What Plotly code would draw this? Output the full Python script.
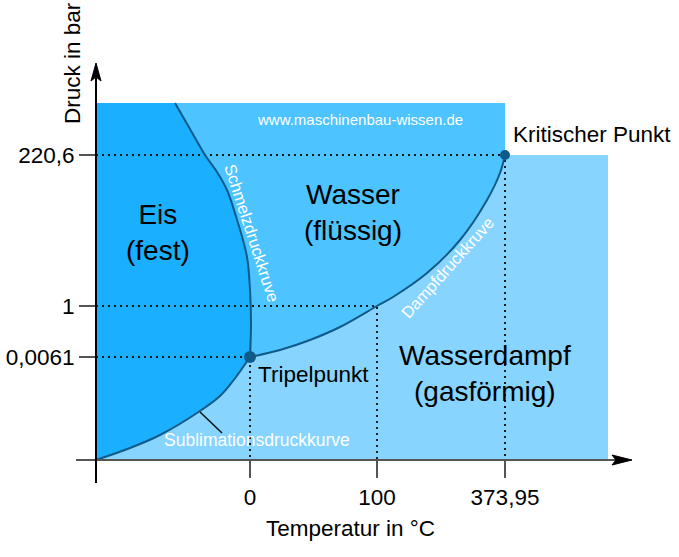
import plotly.graph_objects as go

# Schematic diagram coordinates (non-linear schematic scale)
x_tick_pos = [0, 127, 255]
x_tick_text = ["0", "100", "373,95"]
y_tick_pos = [103, 154, 305]
y_tick_text = ["0,0061", "1", "220,6"]

# phase-boundary curves (schematic positions)
melt_x = [-75, -60, -45, -33, -23, -12, -3, 0, 1, 0]
melt_y = [357, 331, 305, 288, 270, 237, 203, 170, 137, 103]
subl_x = [-154, -120, -90, -50, -30, -17, 0]
subl_y = [0, 12, 25, 49, 64, 79, 103]
vap_x = [0, 30, 60, 90, 127, 143, 177, 210, 237, 250, 255]
vap_y = [103, 110, 120, 133, 154, 163, 187, 220, 260, 287, 305]

triple = (0, 103)
critical = (255, 305)

# diagram frame
left_x, top_y, right_x = -154, 357, 358

C_ICE = "#1AAFFF"
C_WATER = "#4DC3FF"
C_VAP = "#87D4FF"
C_LINE = "#0F5A87"
FONT = "Liberation Sans, Arial, sans-serif"

fig = go.Figure()

# regions
vx = subl_x + vap_x[1:] + [right_x, right_x]
vy = subl_y + vap_y[1:] + [critical[1], 0]
fig.add_trace(go.Scatter(x=vx, y=vy, fill="toself", fillcolor=C_VAP, line=dict(width=0),
                         mode="lines", hoverinfo="skip"))
wx = melt_x + vap_x[1:] + [critical[0]]
wy = melt_y + vap_y[1:] + [top_y]
fig.add_trace(go.Scatter(x=wx, y=wy, fill="toself", fillcolor=C_WATER, line=dict(width=0),
                         mode="lines", hoverinfo="skip"))
ix = [left_x] + melt_x + subl_x[::-1][1:]
iy = [top_y] + melt_y + subl_y[::-1][1:]
fig.add_trace(go.Scatter(x=ix, y=iy, fill="toself", fillcolor=C_ICE, line=dict(width=0),
                         mode="lines", hoverinfo="skip"))

# dotted guide lines from each tick pair
for xp, yp in zip(x_tick_pos, y_tick_pos):
    fig.add_trace(go.Scatter(x=[left_x, xp, xp], y=[yp, yp, 0], mode="lines",
                             line=dict(color="#1a1a1a", width=2, dash="2px,4px"), hoverinfo="skip"))

# curves
for cx, cy in [(melt_x, melt_y), (subl_x, subl_y), (vap_x, vap_y)]:
    fig.add_trace(go.Scatter(x=cx, y=cy, mode="lines", line=dict(color=C_LINE, width=2, shape="spline"),
                             hoverinfo="skip"))

# points
fig.add_trace(go.Scatter(x=[triple[0]], y=[triple[1]], mode="markers",
                         marker=dict(color=C_LINE, size=12), hoverinfo="skip"))
fig.add_trace(go.Scatter(x=[critical[0]], y=[critical[1]], mode="markers",
                         marker=dict(color=C_LINE, size=10), hoverinfo="skip"))

shapes = [
    # axis lines
    dict(type="line", x0=-174, x1=366, y0=0, y1=0, line=dict(color="#555555", width=2)),
    dict(type="line", x0=left_x, x1=left_x, y0=-23, y1=382, line=dict(color="#000000", width=2)),
    # arrow heads
    dict(type="path", path="M -154 397 L -159 379 L -154 383 L -149 379 Z",
         fillcolor="#000000", line=dict(color="#000000", width=1)),
    dict(type="path", path="M 382 0 L 362 5 L 366 0 L 362 -5 Z",
         fillcolor="#000000", line=dict(color="#000000", width=1)),
    # leader line for Sublimationsdruckkurve
    dict(type="line", x0=-50, y0=48, x1=-28, y1=27, line=dict(color="#111111", width=1.5)),
]

annotations = [
    dict(x=-92, y=228, text="Eis<br>(fest)", font=dict(size=28)),
    dict(x=103, y=248, text="Wasser<br>(flüssig)", font=dict(size=28)),
    dict(x=235, y=87, text="Wasserdampf<br>(gasförmig)", font=dict(size=28)),
    dict(x=6, y=86, text="Tripelpunkt", xanchor="left", font=dict(size=22.5)),
    dict(x=261, y=326, text="Kritischer Punkt", xanchor="left", font=dict(size=22.5)),
    dict(x=110, y=341, text="www.maschinenbau-wissen.de", font=dict(size=15, color="white")),
    dict(x=2, y=227, text="Schmelzdruckkruve", textangle=72, font=dict(size=16.5, color="white")),
    dict(x=197, y=192, text="Dampfdruckkruve", textangle=-48, font=dict(size=16.5, color="white")),
    dict(x=7, y=20, text="Sublimationsdruckkurve", font=dict(size=17.5, color="white")),
    dict(x=100, y=-68, text="Temperatur in °C", font=dict(size=22.5)),
    dict(x=-178, y=397, text="Druck in bar", textangle=-90, font=dict(size=22.5)),
]
for a in annotations:
    a.setdefault("showarrow", False)
    a["font"].setdefault("color", "#000000")
    a["font"]["family"] = FONT

fig.update_layout(
    width=679, height=557,
    margin=dict(l=0, r=0, t=0, b=0),
    paper_bgcolor="white", plot_bgcolor="white",
    showlegend=False,
    shapes=shapes, annotations=annotations,
    xaxis=dict(range=[-250, 429], showgrid=False, zeroline=False, showline=False,
               tickvals=x_tick_pos, ticktext=x_tick_text, ticks="outside", ticklen=17,
               tickwidth=2, tickcolor="#555555", anchor="free", position=97 / 557,
               tickfont=dict(family=FONT, size=22.5, color="#000000"), automargin=False,
               fixedrange=True),
    yaxis=dict(range=[-97, 460], showgrid=False, zeroline=False, showline=False,
               tickvals=y_tick_pos, ticktext=y_tick_text, ticks="outside", ticklen=17,
               tickwidth=2, tickcolor="#555555", anchor="free", position=96 / 679,
               tickfont=dict(family=FONT, size=22.5, color="#000000"), automargin=False,
               fixedrange=True),
)

fig.write_html("out.html", config={"displayModeBar": False})
